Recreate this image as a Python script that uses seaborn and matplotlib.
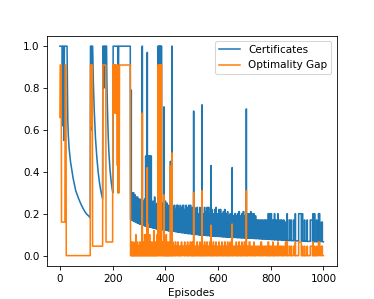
import matplotlib
matplotlib.use("Agg")
import matplotlib.pyplot as plt
import pandas as pd
import seaborn as sns

# --- early phase (episodes 0-268) ---
cert_head_ep = [0, 8, 9, 11, 14, 15, 17, 27, 28, 29, 30, 32, 35, 40, 45, 50, 55, 60, 70, 80,
                90, 100, 110, 115, 116, 118, 119, 121, 124, 125, 127, 130, 135, 140, 145, 150,
                155, 160, 162, 163, 166, 167, 169, 172, 173, 175, 177, 178, 180, 183, 186,
                190, 194, 198, 201, 202, 220, 221, 222, 223, 267, 268]
cert_head_val = [1.0, 1.0, 0.62, 1.0, 1.0, 0.55, 1.0, 1.0, 0.86, 0.74, 0.64, 0.57, 0.51, 0.45,
                 0.41, 0.37, 0.34, 0.31, 0.275, 0.245, 0.22, 0.20, 0.188, 0.18, 1.0, 1.0, 0.6,
                 1.0, 1.0, 0.95, 0.82, 0.70, 0.56, 0.47, 0.40, 0.35, 0.31, 0.28, 0.27, 1.0,
                 1.0, 0.8, 1.0, 1.0, 0.85, 1.0, 1.0, 0.85, 0.72, 0.58, 0.49, 0.41, 0.36, 0.32,
                 0.30, 1.0, 1.0, 0.30, 0.82, 1.0, 1.0, 0.172]

gap_head_ep = [0, 1, 5, 6, 19, 20, 23, 24, 115, 116, 118, 119, 120, 123, 124, 162, 163, 174,
               175, 200, 201, 204, 205, 206, 210, 211, 212, 217, 218, 219, 220, 225, 226,
               267, 268]
gap_head_val = [0.66, 0.91, 0.91, 0.16, 0.16, 0.91, 0.91, 0.0, 0.0, 0.91, 0.91, 0.62, 0.91,
                0.91, 0.045, 0.045, 0.91, 0.91, 0.065, 0.065, 0.91, 0.91, 0.68, 0.91, 0.91,
                0.68, 0.91, 0.91, 0.43, 0.91, 0.30, 0.30, 0.91, 0.91, 0.0]

# --- spiky phase (episodes 270-1000) ---
spike_ep = [270, 273, 276, 279, 282, 285, 288, 291, 294, 297,
            300, 303, 306, 309, 312, 315, 318, 321, 325, 328,
            331, 334, 337, 340, 343, 346, 350, 353, 356, 359,
            362, 365, 368, 372, 376, 380, 384, 390, 394, 397,
            400, 403, 406, 409, 412, 415, 419, 422, 425, 428,
            433, 438, 442, 447, 452, 456, 461, 466, 473, 478,
            484, 489, 494, 499, 503, 507, 511, 515, 520, 526,
            531, 535, 539, 544, 548, 553, 558, 563, 568, 573,
            577, 582, 587, 592, 598, 603, 608, 614, 620, 625,
            631, 636, 641, 646, 653, 658, 663, 669, 674, 679,
            685, 690, 695, 700, 707, 712, 718, 724, 730, 736,
            742, 748, 756, 762, 769, 775, 783, 790, 796, 801,
            808, 814, 820, 827, 834, 842, 849, 856, 862, 870,
            878, 887, 893, 906, 920, 928, 938, 950, 960, 966,
            974, 981, 992]
spike_len = [1, 1, 1, 1, 1, 1, 1, 1, 1, 1,
             1, 1, 1, 1, 1, 1, 1, 1, 1, 1,
             1, 1, 1, 1, 1, 1, 1, 1, 1, 1,
             1, 1, 1, 2, 2, 2, 2, 1, 1, 1,
             1, 1, 1, 1, 1, 1, 1, 1, 1, 1,
             2, 1, 3, 1, 1, 2, 1, 4, 1, 2,
             1, 1, 3, 1, 1, 1, 1, 1, 2, 1,
             1, 1, 1, 1, 2, 1, 1, 3, 1, 1,
             1, 1, 2, 1, 1, 1, 3, 1, 1, 2,
             1, 1, 1, 1, 1, 1, 3, 1, 1, 2,
             1, 1, 3, 1, 1, 1, 3, 1, 2, 1,
             1, 4, 1, 3, 1, 4, 1, 2, 1, 2,
             1, 1, 3, 1, 4, 1, 1, 4, 1, 3,
             1, 5, 1, 10, 1, 1, 1, 8, 1, 1,
             1, 5, 4]
cert_floor = [0.172, 0.170, 0.168, 0.166, 0.164, 0.162, 0.160, 0.158, 0.157, 0.155,
              0.153, 0.152, 0.150, 0.149, 0.147, 0.146, 0.145, 0.143, 0.142, 0.141,
              0.140, 0.139, 0.138, 0.137, 0.136, 0.135, 0.134, 0.133, 0.132, 0.131,
              0.130, 0.129, 0.128, 0.127, 0.126, 0.126, 0.125, 0.124, 0.123, 0.123,
              0.122, 0.121, 0.121, 0.120, 0.119, 0.119, 0.118, 0.118, 0.117, 0.117,
              0.116, 0.115, 0.114, 0.113, 0.112, 0.111, 0.110, 0.109, 0.108, 0.107,
              0.106, 0.105, 0.105, 0.104, 0.103, 0.103, 0.102, 0.101, 0.101, 0.100,
              0.099, 0.099, 0.098, 0.098, 0.097, 0.097, 0.096, 0.096, 0.095, 0.095,
              0.094, 0.094, 0.093, 0.093, 0.092, 0.092, 0.091, 0.091, 0.090, 0.090,
              0.089, 0.089, 0.088, 0.088, 0.088, 0.087, 0.087, 0.087, 0.086, 0.086,
              0.086, 0.085, 0.085, 0.085, 0.084, 0.084, 0.083, 0.083, 0.083, 0.082,
              0.082, 0.081, 0.081, 0.080, 0.080, 0.079, 0.079, 0.078, 0.078, 0.077,
              0.077, 0.076, 0.076, 0.075, 0.075, 0.074, 0.074, 0.073, 0.073, 0.072,
              0.072, 0.071, 0.071, 0.070, 0.069, 0.069, 0.068, 0.068, 0.068, 0.067,
              0.067, 0.067, 0.067]
cert_top = [0.79, 0.30, 0.28, 0.30, 0.27, 0.29, 0.28, 0.26, 0.28, 0.27,
            0.25, 0.27, 0.26, 0.25, 1.0, 0.26, 0.25, 0.27, 0.475, 0.475,
            0.97, 0.475, 0.475, 0.475, 0.475, 0.475, 0.23, 0.26, 0.22, 0.28,
            0.24, 0.22, 0.25, 1.0, 1.0, 1.0, 1.0, 0.25, 0.71, 0.24,
            0.26, 0.23, 0.25, 0.22, 0.24, 0.23, 0.45, 0.24, 1.0, 0.23,
            0.24, 0.22, 0.24, 0.24, 0.22, 0.24, 0.23, 0.24, 0.22, 0.24,
            0.23, 0.24, 0.24, 0.22, 0.23, 0.69, 0.23, 0.20, 0.23, 0.20,
            0.23, 0.22, 0.72, 0.20, 0.23, 0.21, 0.23, 0.23, 0.20, 0.43,
            0.22, 0.20, 0.22, 0.23, 0.20, 0.22, 0.22, 0.20, 0.21, 0.22,
            0.20, 0.21, 0.19, 0.20, 0.42, 0.19, 0.20, 0.19, 0.20, 0.21,
            0.19, 0.20, 0.21, 0.19, 0.70, 0.20, 0.20, 0.21, 0.20, 0.20,
            0.19, 0.17, 0.17, 0.17, 0.17, 0.17, 0.17, 0.20, 0.20, 0.20,
            0.17, 0.20, 0.17, 0.20, 0.17, 0.17, 0.17, 0.16, 0.20, 0.17,
            0.17, 0.17, 0.20, 0.20, 0.20, 0.17, 0.17, 0.17, 0.20, 0.20,
            0.17, 0.20, 0.16]
gap_top = [0.065, 0.045, 0.065, 0.045, 0.045, 0.065, 0.10, 0.045, 0.065, 0.045,
           0.045, 0.065, 0.045, 0.065, 0.68, 0.045, 0.065, 0.10, 0.10, 0.05,
           0.42, 0.15, 0.065, 0.10, 0.045, 0.065, 0.045, 0.065, 0.12, 0.045,
           0.065, 0.045, 0.10, 0.91, 0.91, 0.91, 0.91, 0.065, 0.29, 0.045,
           0.065, 0.10, 0.045, 0.065, 0.045, 0.065, 0.43, 0.045, 0.49, 0.065,
           0.045, 0.065, 0.045, 0.065, 0.045, 0.045, 0.065, 0.045, 0.065, 0.045,
           0.065, 0.045, 0.065, 0.045, 0.065, 0.30, 0.045, 0.045, 0.065, 0.045,
           0.065, 0.045, 0.31, 0.045, 0.065, 0.045, 0.065, 0.045, 0.065, 0.145,
           0.045, 0.065, 0.045, 0.065, 0.045, 0.065, 0.045, 0.065, 0.045, 0.065,
           0.045, 0.065, 0.045, 0.065, 0.15, 0.045, 0.045, 0.065, 0.045, 0.065,
           0.045, 0.065, 0.045, 0.065, 0.31, 0.045, 0.065, 0.045, 0.045, 0.065,
           0.045, 0.045, 0.045, 0.065, 0.045, 0.045, 0.045, 0.065, 0.045, 0.045,
           0.065, 0.045, 0.045, 0.065, 0.045, 0.045, 0.045, 0.065, 0.065, 0.045,
           0.045, 0.045, 0.065, 0.065, 0.045, 0.045, 0.045, 0.045, 0.065, 0.045,
           0.045, 0.065, 0.045]

cert_end = (1000, 0.066)
gap_end = (1000, 0.0)


def build(head_ep, head_val, floors, tops, end):
    xs, ys = list(head_ep), list(head_val)
    for e, w, b, t in zip(spike_ep, spike_len, floors, tops):
        xs += [e, e, e + w, e + w]
        ys += [b, t, t, b]
    xs.append(end[0])
    ys.append(end[1])
    return pd.DataFrame({"episode": xs, "value": ys})


cert = build(cert_head_ep, cert_head_val, cert_floor, cert_top, cert_end)
gap = build(gap_head_ep, gap_head_val, [0.0] * len(spike_ep), gap_top, gap_end)

fig, ax = plt.subplots(figsize=(5, 4), dpi=74.8)
sns.lineplot(data=cert, x="episode", y="value", sort=False, estimator=None,
             color="#1f77b4", lw=1.5, label="Certificates", ax=ax)
sns.lineplot(data=gap, x="episode", y="value", sort=False, estimator=None,
             color="#ff7f0e", lw=1.5, label="Optimality Gap", ax=ax)
ax.set_xlabel("Episodes")
ax.set_ylabel("")
ax.set_xticks([0, 200, 400, 600, 800, 1000])
ax.set_yticks([0.0, 0.2, 0.4, 0.6, 0.8, 1.0])
ax.legend(loc="upper right")
fig.savefig("out.png", dpi=74.8)
